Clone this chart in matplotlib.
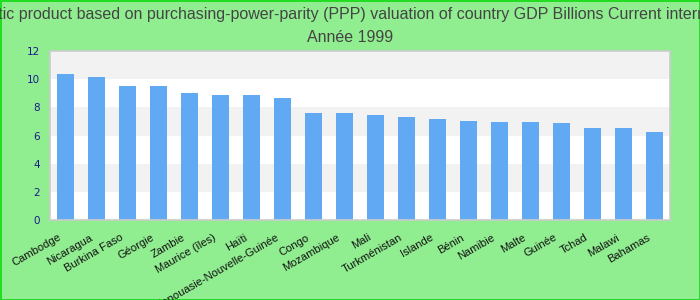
import matplotlib.pyplot as plt
import matplotlib.transforms as mtransforms
import numpy as np

# data
countries = ['Cambodge', 'Nicaragua', 'Burkina Faso', 'Géorgie', 'Zambie',
             'Maurice (îles)', 'Haïti', 'Papouasie-Nouvelle-Guinée', 'Congo',
             'Mozambique', 'Mali', 'Turkménistan', 'Islande', 'Bénin',
             'Namibie', 'Malte', 'Guinée', 'Tchad', 'Malawi', 'Bahamas']
gdp_ppp = [10.37, 10.16, 9.52, 9.52, 9.02, 8.88, 8.88, 8.66, 7.60, 7.60,
           7.46, 7.31, 7.17, 7.03, 6.96, 6.96, 6.89, 6.53, 6.53, 6.25]
yticks = [0, 2, 4, 6, 8, 10, 12]

title1 = ('Gross domestic product based on purchasing-power-parity (PPP) '
          'valuation of country GDP Billions Current international dollar')
title2 = 'Année 1999'

fig = plt.figure(figsize=(7, 3), dpi=100)
fig.patch.set_facecolor('#90ee90')
fig.patch.set_edgecolor('#22dd22')
fig.patch.set_linewidth(2)

ax = fig.add_axes([50/700, 80/300, 620/700, 169/300])
ax.set_facecolor('white')

# alternating grey bands
for lo in yticks[1::2]:
    ax.axhspan(lo, lo + 2, color='#f2f2f2', zorder=0, lw=0)

x = np.arange(len(countries))
ax.bar(x, gdp_ppp, width=0.55, color='#62a9f4', zorder=2)

ax.set_xlim(-0.5, len(countries) - 0.5)
ax.set_ylim(0, 12)
ax.set_yticks(yticks)
ax.tick_params(axis='y', length=0, pad=7, labelsize=7.5, labelcolor='#1a1a8a')
ax.tick_params(axis='x', length=0, pad=12)
ax.set_xticks(x)
ax.set_xticklabels(countries, rotation=30, ha='right', va='center',
                   rotation_mode='anchor', fontsize=8,
                   family='Liberation Sans', color='#111111')
shift = mtransforms.ScaledTranslation(-5/100, 0, fig.dpi_scale_trans)
for lab in ax.get_xticklabels():
    lab.set_transform(lab.get_transform() + shift)

for s in ax.spines.values():
    s.set_color('#cccccc')
    s.set_linewidth(1.2)

fig.text(0.5, 1 - 14/300, title1, ha='center', va='center', fontsize=11.5,
         family='Liberation Sans', color='#444444')
fig.text(0.5, 1 - 37/300, title2, ha='center', va='center', fontsize=11.5,
         family='Liberation Sans', color='#444444')

fig.savefig('out.png', dpi=100, facecolor=fig.get_facecolor(),
            edgecolor=fig.get_edgecolor())
